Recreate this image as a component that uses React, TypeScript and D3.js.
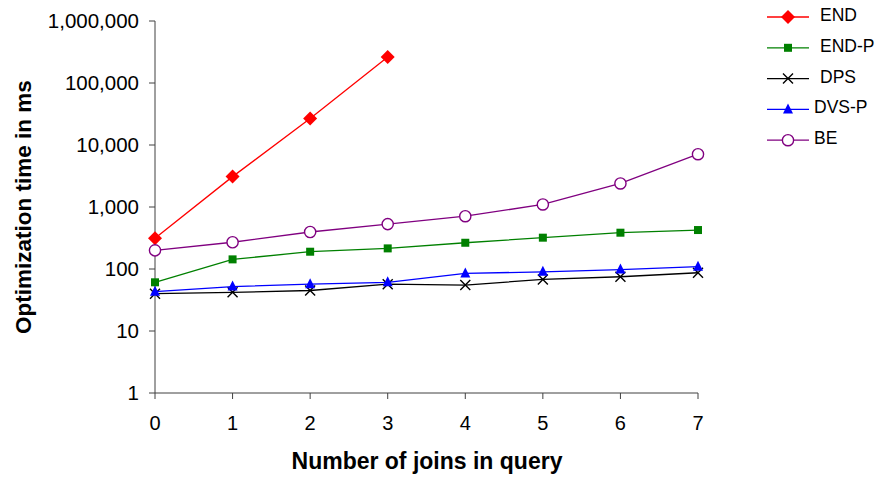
import React from 'react';
import * as d3 from 'd3';

const joins = [0, 1, 2, 3, 4, 5, 6, 7];
const endValues = [313, 3090, 26700, 262000];
const endPValues = [61, 143, 190, 215, 265, 320, 385, 425];
const dpsValues = [40, 42, 45, 57, 55, 68, 75, 87];
const dvsPValues = [43, 52, 57, 61, 85, 90, 98, 109];
const beValues = [200, 270, 395, 530, 710, 1100, 2400, 7100];
const yTicks = [1, 10, 100, 1000, 10000, 100000, 1000000];

const series = [
  { name: 'END', values: endValues, color: '#ff0000', marker: 'diamond' },
  { name: 'END-P', values: endPValues, color: '#008000', marker: 'square' },
  { name: 'DPS', values: dpsValues, color: '#000000', marker: 'cross' },
  { name: 'DVS-P', values: dvsPValues, color: '#0000ff', marker: 'triangle' },
  { name: 'BE', values: beValues, color: '#800080', marker: 'circle' },
];

const font = '"Liberation Sans", Arial, sans-serif';

const Marker = ({ type, x, y, color }) => {
  if (type === 'diamond') {
    return <path d={`M${x},${y - 7}L${x + 7},${y}L${x},${y + 7}L${x - 7},${y}Z`} fill={color} />;
  }
  if (type === 'square') {
    return <rect x={x - 4} y={y - 4} width={8} height={8} fill={color} />;
  }
  if (type === 'triangle') {
    return <path d={`M${x},${y - 6}L${x + 5},${y + 4}L${x - 5},${y + 4}Z`} fill={color} />;
  }
  if (type === 'circle') {
    return <circle cx={x} cy={y} r={5.6} fill="#fff" stroke={color} strokeWidth={1.4} />;
  }
  return (
    <path
      d={`M${x - 5},${y - 5}L${x + 5},${y + 5}M${x + 5},${y - 5}L${x - 5},${y + 5}`}
      stroke={color}
      strokeWidth={1.4}
      fill="none"
    />
  );
};

export default function App() {
  const x = d3.scaleLinear().domain([0, 7]).range([155, 698]);
  const y = d3.scaleLog().domain([1, 1000000]).range([393, 21]);
  const fmt = d3.format(',');

  const line = d3
    .line<number>()
    .x((d, i) => x(joins[i]))
    .y((d) => y(d));

  return (
    <svg width={878} height={478} style={{ position: 'absolute', left: 0, top: 0, background: '#fff' }}>
      {/* axes */}
      <line x1={155} x2={155} y1={y(1000000)} y2={393} stroke="#404040" strokeWidth={1} />
      <line x1={155} x2={698} y1={393} y2={393} stroke="#404040" strokeWidth={1} />
      {yTicks.map((t) => (
        <g key={t}>
          <line x1={149} x2={155} y1={y(t)} y2={y(t)} stroke="#404040" />
          <text x={139} y={y(t) + 7} textAnchor="end" fontFamily={font} fontSize={20.5} fill="#000">
            {fmt(t)}
          </text>
        </g>
      ))}
      {joins.map((j) => (
        <g key={j}>
          <line x1={x(j)} x2={x(j)} y1={393} y2={399} stroke="#404040" />
          <text x={x(j)} y={430} textAnchor="middle" fontFamily={font} fontSize={20} fill="#000">
            {j}
          </text>
        </g>
      ))}
      <text x={427} y={469} textAnchor="middle" fontFamily={font} fontSize={23} fontWeight="bold">
        Number of joins in query
      </text>
      <text
        transform={`translate(31,207) rotate(-90)`}
        textAnchor="middle"
        fontFamily={font}
        fontSize={22.5}
        fontWeight="bold"
      >
        Optimization time in ms
      </text>

      {/* series */}
      {series.map((s) => (
        <g key={s.name}>
          <path d={line(s.values) || ''} fill="none" stroke={s.color} strokeWidth={1.3} />
          {s.values.map((v, i) => (
            <Marker key={i} type={s.marker} x={x(joins[i])} y={y(v)} color={s.color} />
          ))}
        </g>
      ))}

      {/* legend */}
      {series.map((s, i) => {
        const ly = 17 + i * 30.8;
        return (
          <g key={s.name}>
            <line x1={767} x2={809} y1={ly} y2={ly} stroke={s.color} strokeWidth={1.3} />
            <Marker type={s.marker} x={788} y={ly} color={s.color} />
            <text x={i < 3 ? 820 : 814} y={ly + 4} fontFamily={font} fontSize={17.5} fill="#000">
              {s.name}
            </text>
          </g>
        );
      })}
    </svg>
  );
}
